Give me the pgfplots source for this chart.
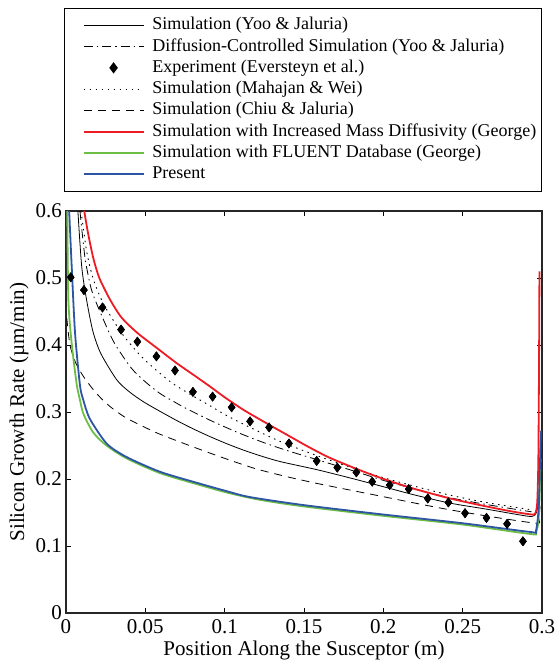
\documentclass[border=0pt]{standalone}
\usepackage{pgfplots}
\pgfplotsset{compat=1.18}
\usepackage{pgfplotstable}
\usepackage{fontspec}
\setmainfont{Liberation Serif}
\definecolor{cred}{RGB}{237,28,36}
\definecolor{cgreen}{RGB}{108,190,69}
\definecolor{cblue}{RGB}{46,84,164}

\pgfplotsset{
  linelegend/.style={legend image code/.code={\path (0pt,0pt); \draw[##1] (13pt,0pt) -- (73pt,0pt);}},
  marklegend/.style={legend image code/.code={\path (0pt,0pt); \draw[##1] plot coordinates {(43pt,0pt)}; \path (73pt,0pt);}},
}

\pgfplotstableread{
x y
0.0030 0.501
0.0113 0.482
0.0230 0.456
0.0347 0.423
0.0450 0.405
0.0570 0.383
0.0687 0.362
0.0800 0.330
0.0924 0.323
0.1044 0.307
0.1160 0.286
0.1280 0.277
0.1405 0.253
0.1580 0.227
0.1710 0.217
0.1830 0.210
0.1930 0.196
0.2040 0.191
0.2160 0.185
0.2280 0.171
0.2410 0.165
0.2515 0.149
0.2650 0.142
0.2780 0.133
0.2880 0.107
}\experiment

\begin{document}
\begin{tikzpicture}
\useasboundingbox (-66pt,-51pt) rectangle (490pt,613pt);
\begin{axis}[
  scale only axis,
  width=476pt, height=402pt,
  xmin=0, xmax=0.3, ymin=0, ymax=0.6,
  xtick={0,0.05,0.1,0.15,0.2,0.25,0.3},
  xticklabels={0,0.05,0.1,0.15,0.2,0.25,0.3},
  ytick={0,0.1,0.2,0.3,0.4,0.5,0.6},
  yticklabels={0,0.1,0.2,0.3,0.4,0.5,0.6},
  tick align=inside,
  major tick length=5pt,
  every tick/.style={black, line width=0.8pt},
  axis line style={line width=1.3pt, color=black!85},
  /pgf/number format/assume math mode=true,
  tick label style={font=\fontsize{21}{25}\selectfont},
  xticklabel style={anchor=base, yshift=-20pt, inner sep=0pt},
  yticklabel style={anchor=east, xshift=-4pt, inner sep=0pt},
  every axis x label/.style={at={(axis description cs:0.5,0)}, anchor=base, yshift=-42pt, font=\fontsize{21}{25}\selectfont},
  every axis y label/.style={at={([xshift=-47pt]axis description cs:0,0.5)}, rotate=90, anchor=center, font=\fontsize{21}{25}\selectfont},
  xlabel={Position Along the Susceptor (m)},
  ylabel={Silicon Growth Rate (µm/min)},
  linelegend,
  legend cell align=left,
  legend style={
    at={(-0.0042,1.0473)}, anchor=south west,
    draw=black, line width=1.3pt,
    font=\fontsize{18}{21}\selectfont,
    inner xsep=5pt, inner ysep=9pt,
    row sep=5.3pt,
    nodes={inner sep=0pt, text height=12.5pt, text depth=3.5pt},
    /tikz/every odd column/.append style={column sep=8pt},
  },
]
% Simulation (Yoo & Jaluria)
\addplot[black, line width=0.8pt, smooth, tension=0.45] coordinates {
(0.0075,0.600) (0.0099,0.517) (0.013,0.467) (0.017,0.420) (0.022,0.387)
(0.032,0.348) (0.040,0.330) (0.049,0.315) (0.060,0.300) (0.070,0.287)
(0.080,0.275) (0.091,0.263) (0.102,0.252) (0.112,0.243) (0.122,0.235)
(0.135,0.226) (0.158,0.214) (0.180,0.201) (0.200,0.1885) (0.220,0.176)
(0.242,0.164) (0.265,0.155) (0.282,0.148) (0.2935,0.144) (0.2965,0.150)
(0.2978,0.170) (0.2988,0.200)
};
\addlegendentry{Simulation (Yoo \& Jaluria)}
% Diffusion-Controlled Simulation
\addplot[black, line width=0.8pt, smooth, tension=0.45, dash pattern=on 9pt off 4pt on 1.5pt off 4pt] coordinates {
(0.0088,0.600) (0.012,0.530) (0.016,0.483) (0.0214,0.450) (0.030,0.405)
(0.041,0.366) (0.050,0.345) (0.059,0.328) (0.0676,0.316) (0.076,0.305)
(0.0928,0.2855) (0.1097,0.268) (0.125,0.254) (0.140,0.242) (0.158,0.229)
(0.180,0.213) (0.200,0.198) (0.220,0.185) (0.240,0.173) (0.260,0.164)
(0.280,0.156) (0.2935,0.151)
};
\addlegendentry{Diffusion-Controlled Simulation (Yoo \& Jaluria)}
% Experiment
\addplot[only marks, mark=diamond*, mark size=4.6pt, black, marklegend]
  table {\experiment};
\addlegendentry{Experiment (Eversteyn et al.)}
% Mahajan & Wei
\addplot[black, line width=0.9pt, smooth, tension=0.45, dash pattern=on 1.5pt off 4.5pt] coordinates {
(0.0095,0.600) (0.013,0.540) (0.017,0.500) (0.0235,0.462) (0.035,0.418)
(0.0466,0.385) (0.0576,0.361) (0.0676,0.342) (0.080,0.324) (0.091,0.309)
(0.101,0.295) (0.116,0.277) (0.135,0.256) (0.158,0.235) (0.180,0.217)
(0.200,0.202) (0.220,0.189) (0.240,0.177) (0.260,0.167) (0.280,0.159)
(0.2935,0.154)
};
\addlegendentry{Simulation (Mahajan \& Wei)}
% Chiu & Jaluria
\addplot[black, line width=0.8pt, smooth, tension=0.45, dash pattern=on 8pt off 6pt] coordinates {
(0.0005,0.440) (0.0025,0.400) (0.006,0.374) (0.011,0.353) (0.017,0.334)
(0.0235,0.317) (0.030,0.304) (0.038,0.291) (0.049,0.278) (0.059,0.267)
(0.080,0.248) (0.101,0.230) (0.120,0.215) (0.140,0.203) (0.158,0.1935)
(0.180,0.183) (0.200,0.1736) (0.220,0.164) (0.242,0.154) (0.270,0.143)
(0.2966,0.134) (0.2980,0.140) (0.2988,0.160)
};
\addlegendentry{Simulation (Chiu \& Jaluria)}
% Increased mass diffusivity
\addplot[cred, line width=1.8pt, smooth, tension=0.45] coordinates {
(0.0115,0.600) (0.0135,0.572) (0.0155,0.548) (0.0175,0.527) (0.021,0.500)
(0.0277,0.468) (0.035,0.441) (0.045,0.418) (0.057,0.396) (0.0697,0.373)
(0.080,0.356) (0.0908,0.338) (0.100,0.322) (0.112,0.303) (0.128,0.281)
(0.140,0.265) (0.152,0.249) (0.165,0.233) (0.179,0.219) (0.192,0.207)
(0.204,0.197) (0.220,0.185) (0.242,0.171) (0.263,0.160) (0.280,0.152)
(0.2935,0.147) (0.2958,0.149) (0.2970,0.165) (0.2977,0.230) (0.2981,0.360)
(0.2984,0.510)
};
\addlegendentry{Simulation with Increased Mass Diffusivity (George)}
% FLUENT database
\addplot[cgreen, line width=1.8pt, smooth, tension=0.45] coordinates {
(0.0008,0.600) (0.0015,0.467) (0.0036,0.402) (0.0067,0.342) (0.0088,0.318)
(0.011,0.297) (0.017,0.270) (0.025,0.251) (0.038,0.231) (0.059,0.209)
(0.080,0.194) (0.101,0.180) (0.122,0.169) (0.150,0.159) (0.200,0.145)
(0.250,0.132) (0.2924,0.118) (0.2962,0.120) (0.2980,0.145) (0.2990,0.230)
};
\addlegendentry{Simulation with FLUENT Database (George)}
% Present
\addplot[cblue, line width=1.8pt, smooth, tension=0.45] coordinates {
(0.0020,0.600) (0.0036,0.517) (0.0057,0.418) (0.0088,0.340) (0.0109,0.318)
(0.015,0.290) (0.0256,0.253) (0.038,0.233) (0.059,0.211) (0.080,0.196)
(0.101,0.182) (0.116,0.173) (0.150,0.161) (0.200,0.147) (0.250,0.134)
(0.2924,0.121) (0.2962,0.123) (0.2980,0.160) (0.2987,0.220) (0.2993,0.272)
};
\addlegendentry{Present}
% experiment markers redrawn on top
\addplot[only marks, mark=diamond*, mark size=4.6pt, black, forget plot] table {\experiment};
\end{axis}
\end{tikzpicture}
\end{document}
